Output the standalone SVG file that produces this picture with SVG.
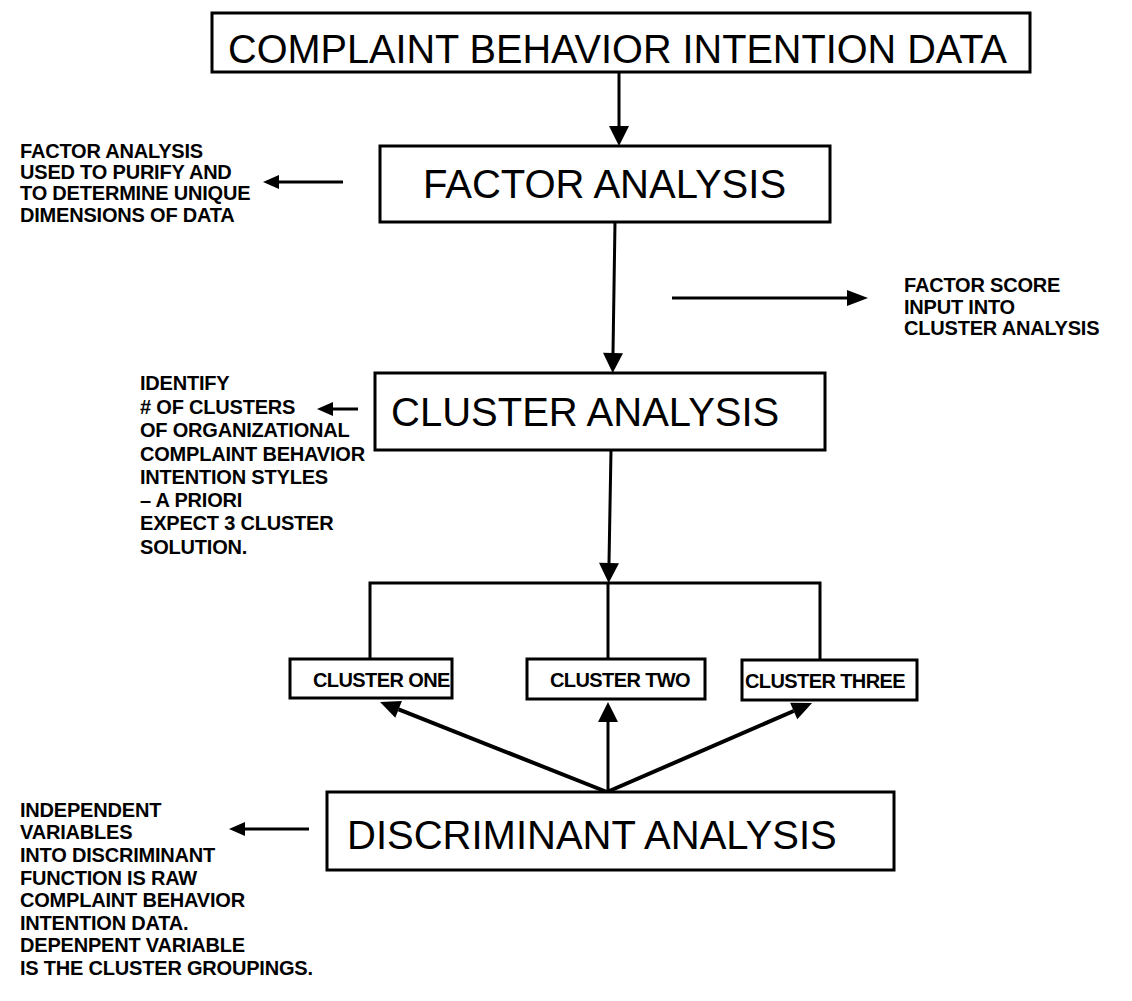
<svg xmlns="http://www.w3.org/2000/svg" width="1132" height="1001" viewBox="0 0 1132 1001">
<style>
.box{fill:#fff;stroke:#000;stroke-width:3}
.big{font-family:"Liberation Sans",Arial,sans-serif;font-size:40px;fill:#000}
.small{font-family:"Liberation Sans",Arial,sans-serif;font-size:20px;font-weight:bold;fill:#000;letter-spacing:-0.2px}
.lbl{font-family:"Liberation Sans",Arial,sans-serif;font-size:20px;font-weight:bold;fill:#000;letter-spacing:-0.6px}
.ln{stroke:#000;stroke-width:3;fill:none}
.thick{stroke:#000;stroke-width:4;fill:none}
</style>
<defs>
<marker id="hd" markerUnits="userSpaceOnUse" markerWidth="20" markerHeight="20" refX="0" refY="10" orient="auto" overflow="visible"><path d="M0,0 L20,10 L0,20 z" fill="#000"/></marker>
<marker id="hs" markerUnits="userSpaceOnUse" markerWidth="16" markerHeight="14" refX="0" refY="7" orient="auto" overflow="visible"><path d="M0,0 L16,7 L0,14 z" fill="#000"/></marker>
<marker id="hr" markerUnits="userSpaceOnUse" markerWidth="21" markerHeight="16" refX="0" refY="8" orient="auto" overflow="visible"><path d="M0,0 L21,8 L0,16 z" fill="#000"/></marker>
<marker id="hdg" markerUnits="userSpaceOnUse" markerWidth="20" markerHeight="18" refX="0" refY="9" orient="auto" overflow="visible"><path d="M0,0 L20,9 L0,18 z" fill="#000"/></marker>
<clipPath id="c1"><rect x="290" y="659" width="162" height="39"/></clipPath>
</defs>
<rect width="1132" height="1001" fill="#fff"/>
<g id="connectors">
<line class="ln" x1="619" y1="72" x2="619" y2="126" marker-end="url(#hd)"/>
<line class="ln" x1="615" y1="222" x2="613" y2="353" marker-end="url(#hd)"/>
<line class="ln" x1="611" y1="450" x2="609" y2="563" marker-end="url(#hd)"/>
<line class="ln" x1="672" y1="298" x2="847" y2="298" marker-end="url(#hr)"/>
<line class="ln" x1="343" y1="182" x2="279" y2="182" marker-end="url(#hs)"/>
<line class="ln" x1="358" y1="409" x2="333" y2="409" marker-end="url(#hs)"/>
<line class="ln" x1="309" y1="829" x2="245" y2="829" marker-end="url(#hs)"/>
<polyline class="ln" points="370,659 370,583 820,583 820,660"/>
<line class="ln" x1="608" y1="583" x2="608" y2="659"/>
<line class="thick" x1="607" y1="792" x2="398.6" y2="709.4" marker-end="url(#hdg)"/>
<line class="ln" x1="608" y1="792" x2="608" y2="722" marker-end="url(#hd)"/>
<line class="thick" x1="607" y1="792" x2="793.7" y2="711" marker-end="url(#hdg)"/>
</g>
<g id="title">
<rect class="box" x="212" y="13" width="818" height="59"/>
<text class="big" x="228" y="63" textLength="779" lengthAdjust="spacingAndGlyphs">COMPLAINT BEHAVIOR INTENTION DATA</text>
</g>
<g id="factor">
<rect class="box" x="380" y="146" width="450" height="76"/>
<text class="big" x="423" y="198">FACTOR ANALYSIS</text>
</g>
<g id="cluster">
<rect class="box" x="375" y="373" width="450" height="77"/>
<text class="big" x="391" y="426">CLUSTER ANALYSIS</text>
</g>
<g id="cluster-one">
<rect class="box" x="290" y="659" width="162" height="39"/>
<text class="lbl" x="313" y="687" clip-path="url(#c1)">CLUSTER ONE</text>
</g>
<g id="cluster-two">
<rect class="box" x="527" y="659" width="178" height="40"/>
<text class="lbl" x="550" y="687">CLUSTER TWO</text>
</g>
<g id="cluster-three">
<rect class="box" x="742" y="660" width="175" height="40"/>
<text class="lbl" x="745" y="688">CLUSTER THREE</text>
</g>
<g id="discriminant">
<rect class="box" x="327" y="792" width="567" height="78"/>
<text class="big" x="347" y="849">DISCRIMINANT ANALYSIS</text>
</g>
<g id="note-factor">
<text class="small" x="20" y="158">FACTOR ANALYSIS</text>
<text class="small" x="20" y="179">USED TO PURIFY AND</text>
<text class="small" x="20" y="200">TO DETERMINE UNIQUE</text>
<text class="small" x="20" y="222">DIMENSIONS OF DATA</text>
</g>
<g id="note-score">
<text class="small" x="904" y="292">FACTOR SCORE</text>
<text class="small" x="904" y="314">INPUT INTO</text>
<text class="small" x="904" y="335">CLUSTER ANALYSIS</text>
</g>
<g id="note-cluster">
<text class="small" x="140" y="390">IDENTIFY</text>
<text class="small" x="140" y="414"># OF CLUSTERS</text>
<text class="small" x="140" y="437">OF ORGANIZATIONAL</text>
<text class="small" x="140" y="461">COMPLAINT BEHAVIOR</text>
<text class="small" x="140" y="484">INTENTION STYLES</text>
<text class="small" x="140" y="507">– A PRIORI</text>
<text class="small" x="140" y="530">EXPECT 3 CLUSTER</text>
<text class="small" x="140" y="554">SOLUTION.</text>
</g>
<g id="note-discriminant">
<text class="small" x="20" y="817">INDEPENDENT</text>
<text class="small" x="20" y="839">VARIABLES</text>
<text class="small" x="20" y="862">INTO DISCRIMINANT</text>
<text class="small" x="20" y="885">FUNCTION IS RAW</text>
<text class="small" x="20" y="907">COMPLAINT BEHAVIOR</text>
<text class="small" x="20" y="930">INTENTION DATA.</text>
<text class="small" x="20" y="952">DEPENPENT VARIABLE</text>
<text class="small" x="20" y="975">IS THE CLUSTER GROUPINGS.</text>
</g>
</svg>
